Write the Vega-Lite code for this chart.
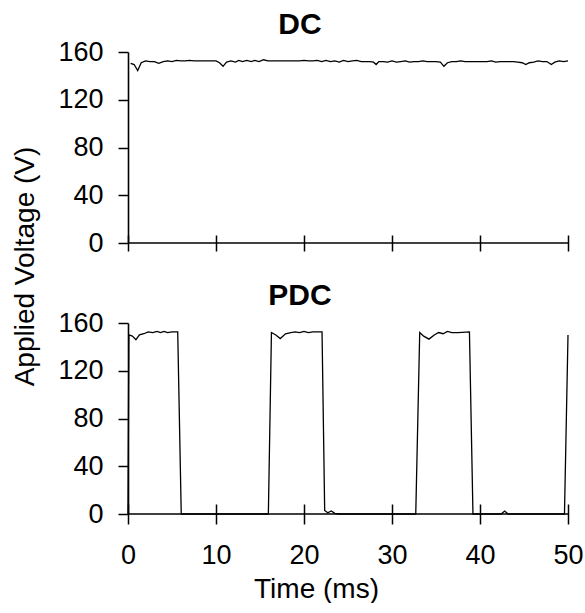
{
  "$schema": "https://vega.github.io/schema/vega-lite/v6.json",
  "padding": {"left": 11, "top": 10, "right": 0, "bottom": 0},
  "config": {
    "font": "Liberation Sans",
    "view": {"stroke": null},
    "axis": {
      "grid": false,
      "domainColor": "black", "tickColor": "black", "labelColor": "black", "titleColor": "black",
      "labelFontSize": 27, "titleFontSize": 28, "titleFontWeight": "normal",
      "domainWidth": 1.6, "tickWidth": 1.5, "labelFlush": false,
      "labelFont": "Liberation Sans", "titleFont": "Liberation Sans"
    },
    "title": {"fontSize": 30, "fontWeight": "bold", "color": "black", "anchor": "middle", "frame": "group", "dx": -48, "offset": -2, "baseline": "alphabetic", "font": "Liberation Sans"}
  },
  "datasets": {
    "zero": [{"v": 0}],
    "dc": [
      {"t":0.3,"v":150.5},{"t":0.7,"v":149.5},{"t":1.1,"v":144.5},{"t":1.5,"v":151},{"t":2.0,"v":152.5},{"t":2.5,"v":152},{"t":3.0,"v":152},{"t":3.5,"v":150.5},{"t":4.0,"v":152},{"t":4.5,"v":152.5},{"t":5.0,"v":152},{"t":5.5,"v":153},{"t":6.0,"v":152.5},{"t":6.5,"v":152.5},{"t":7.0,"v":153},{"t":7.5,"v":152.5},{"t":8.0,"v":152.5},{"t":8.5,"v":152.5},{"t":9.0,"v":152.5},{"t":9.5,"v":152.5},{"t":10.0,"v":152.5},{"t":10.4,"v":151},{"t":10.8,"v":148},{"t":11.2,"v":151.5},{"t":11.7,"v":152.5},{"t":12.2,"v":151.5},{"t":12.6,"v":153},{"t":13.0,"v":152},{"t":13.5,"v":153},{"t":14.0,"v":152},{"t":14.4,"v":153},{"t":14.9,"v":152},{"t":15.4,"v":153.5},{"t":15.9,"v":152.5},{"t":16.5,"v":152.5},{"t":17.0,"v":152.5},{"t":17.5,"v":152.5},{"t":18.0,"v":152.5},{"t":18.5,"v":152.5},{"t":19.0,"v":152.5},{"t":19.5,"v":152.5},{"t":20.0,"v":153},{"t":20.5,"v":152.5},{"t":21.0,"v":152.5},{"t":21.5,"v":153},{"t":22.0,"v":152},{"t":22.5,"v":153},{"t":23.0,"v":152},{"t":23.5,"v":152.5},{"t":24.0,"v":151.5},{"t":24.5,"v":153},{"t":25.0,"v":152},{"t":25.5,"v":152.5},{"t":26.0,"v":153},{"t":26.5,"v":152},{"t":27.0,"v":152},{"t":27.5,"v":152},{"t":27.9,"v":151.5},{"t":28.2,"v":149.5},{"t":28.5,"v":152},{"t":29.0,"v":152},{"t":29.5,"v":151.5},{"t":30.0,"v":152.5},{"t":30.5,"v":151.5},{"t":31.0,"v":152},{"t":31.5,"v":152.5},{"t":32.0,"v":151.5},{"t":32.5,"v":152},{"t":33.0,"v":152},{"t":33.5,"v":152.5},{"t":34.0,"v":152},{"t":34.5,"v":152},{"t":35.0,"v":152},{"t":35.5,"v":151.5},{"t":35.9,"v":148},{"t":36.3,"v":151},{"t":36.8,"v":152},{"t":37.3,"v":152},{"t":37.8,"v":152.5},{"t":38.3,"v":152},{"t":38.8,"v":152},{"t":39.3,"v":152},{"t":39.8,"v":152},{"t":40.3,"v":152},{"t":40.8,"v":152},{"t":41.3,"v":152.5},{"t":41.8,"v":151.5},{"t":42.3,"v":152},{"t":42.8,"v":152},{"t":43.3,"v":152},{"t":43.8,"v":152},{"t":44.3,"v":151.5},{"t":44.8,"v":151},{"t":45.2,"v":149.5},{"t":45.6,"v":151},{"t":46.1,"v":151.5},{"t":46.6,"v":152.5},{"t":47.1,"v":152},{"t":47.6,"v":152},{"t":48.1,"v":149.5},{"t":48.5,"v":151.5},{"t":49.0,"v":152.5},{"t":49.5,"v":152},{"t":50.0,"v":152.5}
    ],
    "pdc": [
      {"t":0,"v":0},{"t":0.1,"v":150},{"t":0.5,"v":149},{"t":0.9,"v":146},{"t":1.3,"v":150},{"t":1.8,"v":151},{"t":2.3,"v":152.5},{"t":2.8,"v":152},{"t":3.3,"v":153},{"t":3.7,"v":152},{"t":4.1,"v":153},{"t":4.5,"v":152},{"t":5.0,"v":152.5},{"t":5.65,"v":152.5},{"t":6.05,"v":0},{"t":10,"v":0},{"t":15.95,"v":0},{"t":16.3,"v":152},{"t":16.8,"v":150},{"t":17.3,"v":147},{"t":17.9,"v":151},{"t":18.5,"v":152},{"t":19.0,"v":152.5},{"t":19.5,"v":152},{"t":20.0,"v":153},{"t":20.5,"v":152},{"t":21.0,"v":152.5},{"t":22.05,"v":152.5},{"t":22.35,"v":3},{"t":22.7,"v":1},{"t":23.1,"v":2.5},{"t":23.5,"v":0.5},{"t":24,"v":0},{"t":32.7,"v":0},{"t":33.15,"v":152},{"t":33.6,"v":149},{"t":34.2,"v":146.5},{"t":34.8,"v":150},{"t":35.3,"v":152},{"t":35.8,"v":151},{"t":36.3,"v":153},{"t":36.8,"v":152},{"t":37.5,"v":152},{"t":38.8,"v":152.5},{"t":39.2,"v":0},{"t":42.4,"v":0},{"t":42.8,"v":2.5},{"t":43.2,"v":0},{"t":49.6,"v":0},{"t":50,"v":150}
    ]
  },
  "vconcat": [
    {
      "width": 440,
      "height": 191,
      "title": {"text": "DC"},
      "layer": [
        {
          "data": {"name": "zero"},
          "mark": {"type": "rule", "color": "black", "strokeWidth": 1.5},
          "encoding": {"y": {"field": "v", "type": "quantitative", "scale": {"domain": [0, 160]}}}
        },
        {
          "data": {"name": "dc"},
          "mark": {"type": "line", "color": "black", "strokeWidth": 1.3},
          "encoding": {
            "x": {"field": "t", "type": "quantitative", "scale": {"domain": [0, 50]},
              "axis": {"values": [0, 10, 20, 30, 40, 50], "labels": false, "title": null, "domain": false, "tickSize": 16, "offset": -8}},
            "y": {"field": "v", "type": "quantitative", "scale": {"domain": [0, 160]},
              "axis": {"values": [0, 40, 80, 120, 160], "tickSize": 10, "labelPadding": 15, "title": "Applied Voltage (V)", "titleY": 214, "titlePadding": 18}}
          }
        }
      ]
    },
    {
      "width": 440,
      "height": 191,
      "title": {"text": "PDC"},
      "layer": [
        {
          "data": {"name": "zero"},
          "mark": {"type": "rule", "color": "black", "strokeWidth": 1.5},
          "encoding": {"y": {"field": "v", "type": "quantitative", "scale": {"domain": [0, 160]}}}
        },
        {
          "data": {"name": "pdc"},
          "mark": {"type": "line", "color": "black", "strokeWidth": 1.3},
          "encoding": {
            "x": {"field": "t", "type": "quantitative", "scale": {"domain": [0, 50]},
              "axis": {"values": [0, 10, 20, 30, 40, 50], "labelPadding": 18, "title": "Time (ms)", "titlePadding": 7, "titleX": 188, "domain": false, "tickSize": 20, "offset": -10}},
            "y": {"field": "v", "type": "quantitative", "scale": {"domain": [0, 160]},
              "axis": {"values": [0, 40, 80, 120, 160], "tickSize": 10, "labelPadding": 15, "title": null}}
          }
        }
      ]
    }
  ],
  "spacing": 80,
  "bounds": "flush"
}
